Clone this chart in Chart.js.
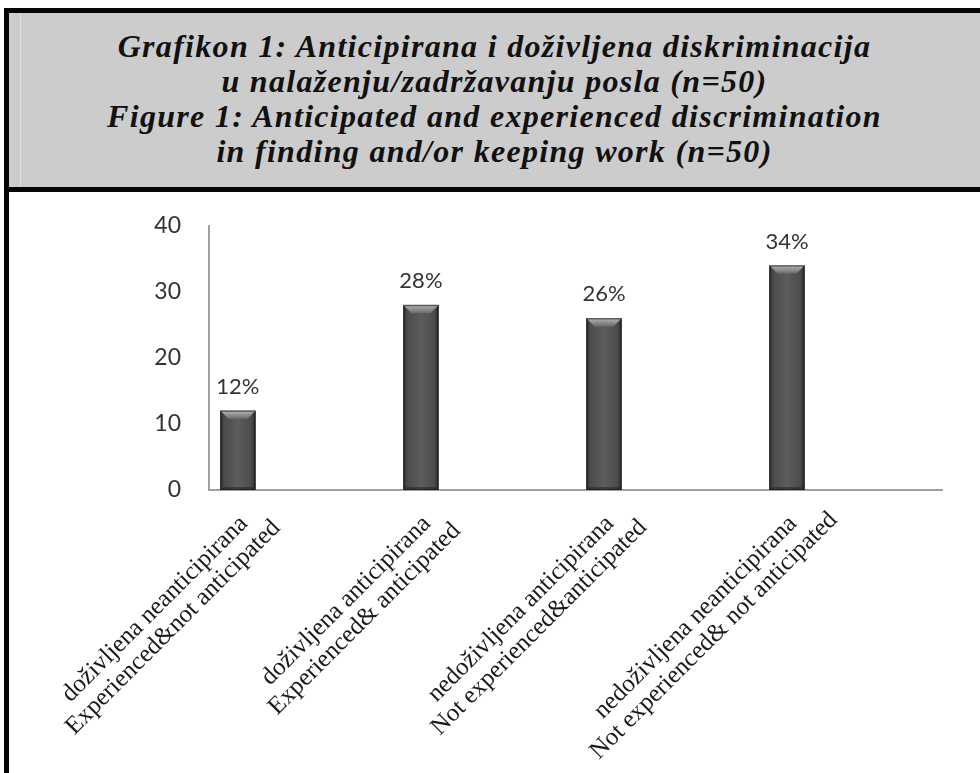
<!DOCTYPE html>
<html>
<head>
<meta charset="utf-8">
<script src="https://cdn.jsdelivr.net/npm/chart.js@4/dist/chart.umd.min.js"></script>
<style>
  html, body { margin: 0; padding: 0; background: #ffffff; }
  body { width: 980px; height: 773px; position: relative; overflow: hidden; }
  .bar-top { position: absolute; left: 4px; top: 8px; width: 976px; height: 5px; background: #050505; }
  .bar-left { position: absolute; left: 4px; top: 8px; width: 5px; height: 765px; background: #050505; }
  .bar-mid { position: absolute; left: 4px; top: 187px; width: 976px; height: 5px; background: #050505; }
  .header { position: absolute; left: 9px; top: 13px; width: 971px; height: 174px; background: #cccccc; }
  .header .rule { position: absolute; left: 11px; top: 0; width: 1px; height: 174px; background: #e2e2e2; }
  .header .title {
    position: absolute; left: 0; right: 0; top: 16px;
    text-align: center; font-family: "Liberation Serif", serif; font-weight: bold; font-style: italic;
    font-size: 32px; line-height: 35px; letter-spacing: 1.3px; color: #111;
  }
  .plot { position: absolute; left: 9px; top: 192px; width: 971px; height: 581px; }
</style>
</head>
<body>
<div class="header"><div class="rule"></div>
  <div class="title">Grafikon 1: Anticipirana i doživljena diskriminacija<br>u nalaženju/zadržavanju posla (n=50)<br>Figure 1: Anticipated and experienced discrimination<br>in finding and/or keeping work (n=50)</div>
</div>
<div class="bar-top"></div>
<div class="bar-left"></div>
<div class="bar-mid"></div>
<div class="plot"><canvas id="c" width="971" height="581"></canvas></div>
<script>
// Category names (Serbian / English) and percentages of respondents
const categoriesHr = ['doživljena neanticipirana', 'doživljena anticipirana', 'nedoživljena anticipirana', 'nedoživljena neanticipirana'];
const categoriesEn = ['Experienced&not anticipated', 'Experienced& anticipated', 'Not experienced&anticipated', 'Not experienced& not anticipated'];
const values = [12, 28, 26, 34];
const yTicks = [0, 10, 20, 30, 40];

// Bevelled bar look plus value labels above each bar
const bevelBars = {
  id: 'bevelBars',
  afterDatasetsDraw(chart) {
    const ctx = chart.ctx;
    const meta = chart.getDatasetMeta(0);
    meta.data.forEach((bar, i) => {
      const p = bar.getProps(['x', 'y', 'width', 'base'], true);
      const l = p.x - p.width / 2, r = p.x + p.width / 2, t = p.y, b = p.base;
      ctx.save();
      const g = ctx.createLinearGradient(l, 0, r, 0);
      g.addColorStop(0, '#2e2e2e');
      g.addColorStop(0.12, '#4c4c4c');
      g.addColorStop(0.5, '#5c5c5c');
      g.addColorStop(0.88, '#4c4c4c');
      g.addColorStop(1, '#2a2a2a');
      ctx.fillStyle = g;
      ctx.fillRect(l, t, r - l, b - t);
      // top bevel
      const bv = 8;
      const tg = ctx.createLinearGradient(0, t, 0, t + bv);
      tg.addColorStop(0, '#b4b4b4');
      tg.addColorStop(1, '#6a6a6a');
      ctx.fillStyle = tg;
      ctx.beginPath();
      ctx.moveTo(l, t); ctx.lineTo(r, t); ctx.lineTo(r - bv, t + bv); ctx.lineTo(l + bv, t + bv); ctx.closePath();
      ctx.fill();
      // bottom bevel
      ctx.fillStyle = 'rgba(30,30,30,0.5)';
      ctx.beginPath();
      ctx.moveTo(l, b); ctx.lineTo(r, b); ctx.lineTo(r - 3, b - 3); ctx.lineTo(l + 3, b - 3); ctx.closePath();
      ctx.fill();
      ctx.strokeStyle = 'rgba(20,20,20,0.6)';
      ctx.lineWidth = 1;
      ctx.strokeRect(l + 0.5, t + 0.5, r - l - 1, b - t - 1);
      // value label
      ctx.fillStyle = '#333333';
      ctx.font = '22px Lato, "Open Sans", sans-serif';
      ctx.textAlign = 'center';
      ctx.textBaseline = 'middle';
      ctx.fillText(values[i] + '%', p.x, t - 24);
      ctx.restore();
    });
  }
};

// Two-line category labels at 45°, second line centred under the first
const categoryLabels = {
  id: 'categoryLabels',
  afterDraw(chart) {
    const ctx = chart.ctx;
    const xs = chart.scales.x;
    const lineH = 26;
    ctx.save();
    ctx.fillStyle = '#1a1a1a';
    ctx.font = '25px "Liberation Serif", serif';
    ctx.textBaseline = 'middle';
    categoriesHr.forEach((hr, i) => {
      const px = xs.getPixelForValue(i) + 6;
      const py = xs.top + 30;
      const w1 = ctx.measureText(hr).width;
      ctx.save();
      ctx.translate(px, py);
      ctx.rotate(-Math.PI / 4);
      ctx.textAlign = 'right';
      ctx.fillText(hr, 0, 0);
      ctx.textAlign = 'center';
      ctx.fillText(categoriesEn[i], -w1 / 2, lineH);
      ctx.restore();
    });
    ctx.restore();
  }
};

new Chart(document.getElementById('c'), {
  type: 'bar',
  data: {
    datasets: [{
      data: values.map((v, i) => ({ x: i, y: v })),
      backgroundColor: '#555555',
      barThickness: 35,
      borderWidth: 0
    }]
  },
  options: {
    responsive: false,
    animation: false,
    events: [],
    layout: { padding: { left: 0, right: 38, top: 34, bottom: 0 } },
    plugins: { legend: { display: false }, tooltip: { enabled: false }, title: { display: false } },
    scales: {
      x: {
        type: 'linear',
        offset: false,
        min: -0.158,
        max: 3.847,
        grid: { display: false, offset: false },
        border: { display: true, color: '#a0a0a0', width: 2 },
        afterFit(s) { s.height = 283; s.paddingLeft = 0; s.paddingRight = 0; },
        afterBuildTicks(s) { s.ticks = categoriesHr.map((_, i) => ({ value: i })); },
        ticks: { display: false }
      },
      y: {
        min: 0,
        max: 40,
        grid: { display: false },
        border: { display: true, color: '#a0a0a0', width: 2 },
        afterFit(s) { s.width = 200; },
        afterBuildTicks(s) { s.ticks = yTicks.map(v => ({ value: v })); },
        ticks: {
          padding: 20,
          color: '#333333',
          font: { family: 'Lato, "Open Sans", sans-serif', size: 23 }
        }
      }
    }
  },
  plugins: [bevelBars, categoryLabels]
});
</script>
</body>
</html>
